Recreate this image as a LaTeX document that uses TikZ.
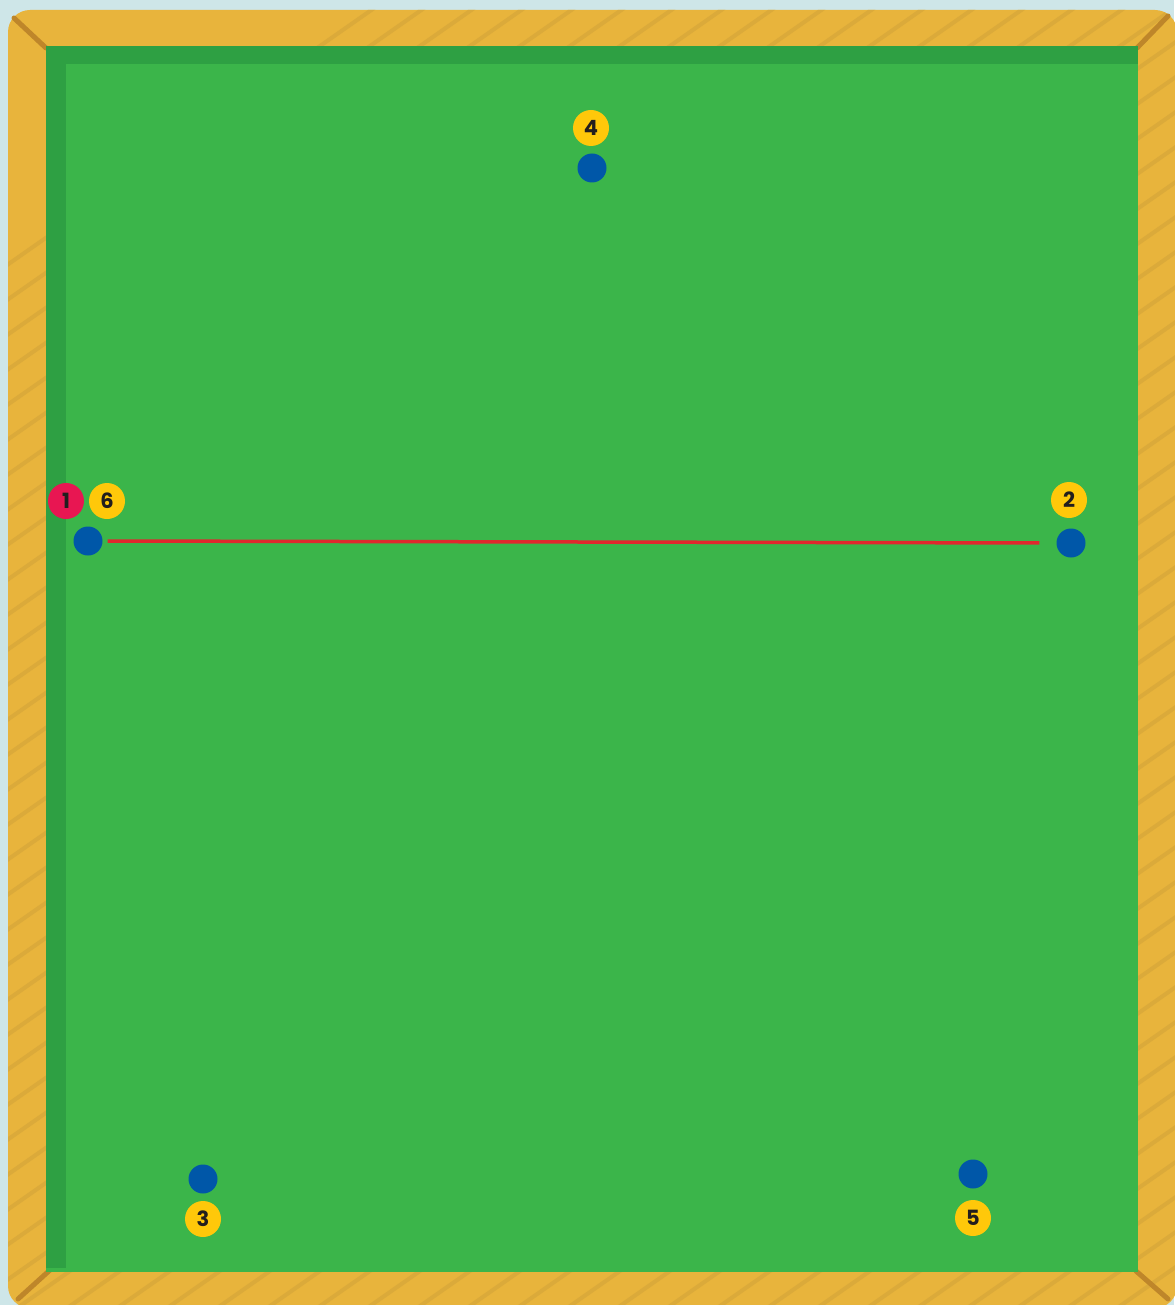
\documentclass[tikz,border=0pt]{standalone}
\usepackage{fontspec}
\setmainfont{Poppins}
\definecolor{bgblue}{RGB}{206,230,232}
\definecolor{bgteal}{RGB}{150,200,200}
\definecolor{railgold}{RGB}{232,180,60}
\definecolor{railhatch}{RGB}{219,170,58}
\definecolor{railbrown}{RGB}{190,134,42}
\definecolor{felt}{RGB}{59,181,74}
\definecolor{feltdark}{RGB}{46,160,67}
\definecolor{spotblue}{RGB}{0,87,168}
\definecolor{tagyellow}{RGB}{255,200,10}
\definecolor{tagred}{RGB}{232,22,82}
\definecolor{linered}{RGB}{224,40,45}
\definecolor{digit}{RGB}{34,30,30}
\usetikzlibrary{positioning}
\tikzset{
  spot/.style={circle,fill=spotblue,minimum size=29,inner sep=0pt},
  tag/.style={circle,fill=#1,minimum size=36,inner sep=0pt,text=digit,
              font=\fontsize{21}{21}\selectfont\bfseries},
  tag/.default=tagyellow,
  hatch/.style={railhatch,line width=4},
  miter/.style={railbrown,line width=5,line cap=round},
}

\begin{document}
\begin{tikzpicture}[x=1pt,y=-1pt]
    \useasboundingbox (0,0) rectangle (1174,1305);
    % backdrop
    \fill[bgblue] (0,0) rectangle (1174,1305);
    \fill[bgteal!50] (0,520) rectangle (8,660);
    % rail
    \fill[railgold,rounded corners=22] (8,10) rectangle (1177,1308);
    \begin{scope}
      \clip[rounded corners=22] (8,10) rectangle (1177,1308);
      \foreach \k in {-1500,-1450,...,1200}
        \draw[hatch] (\k,1320) -- ++(1900,-1330);
    \end{scope}
    \draw[miter] (14,18) -- (46,48);
    \draw[miter] (1168,16) -- (1137,48);
    \draw[miter] (18,1299) -- (50,1270);
    \draw[miter] (1168,1299) -- (1136,1271);
    % felt
    \fill[felt] (46,46) rectangle (1138,1272);
    \fill[feltdark] (46,46) rectangle (1138,64);
    \fill[feltdark] (46,46) rectangle (66,1268);

    % spots
    \node[spot] (pa) at (88,541) {};
    \node[spot] (pb) at (1071,543) {};
    \node[spot] (pc) at (592,168) {};
    \node[spot] (pd) at (203,1179) {};
    \node[spot] (pe) at (973,1174) {};

    % order tags
    \node[tag=tagred] (t1) at (66,501) {1};
    \node[tag] (t6) at (107,501) {6};
    \node[tag] (t2) at (1069,500) {2};
    \node[tag] (t4) at (591,128) {4};
    \node[tag] (t3) at (203,1219) {3};
    \node[tag] (t5) at (973,1218) {5};

    \draw[linered,line width=3.5,shorten <=5,shorten >=17] (pa.east) -- (pb.west);
\end{tikzpicture}
\end{document}
